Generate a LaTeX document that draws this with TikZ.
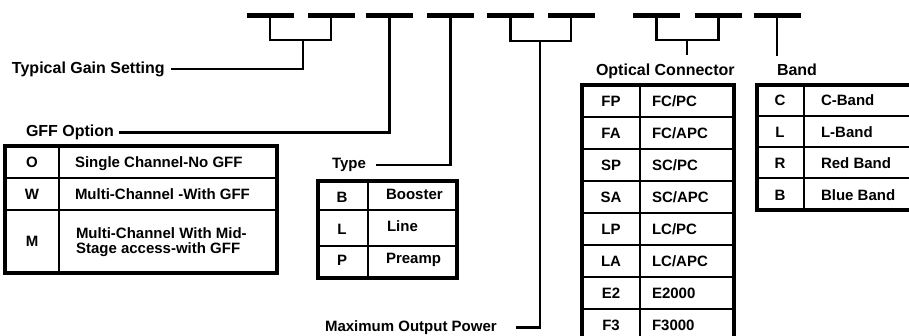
\documentclass[tikz,border=0pt]{standalone}
\usepackage{fontspec}
\setmainfont{Liberation Sans}
\begin{document}
\begin{tikzpicture}[x=1pt,y=-1pt,
  dashbar/.style={fill=black,draw=none,minimum width=47pt,minimum height=4.5pt,inner sep=0pt,outer sep=0pt},
  conn/.style={line width=2.2pt},
  lab/.style={font=\bfseries\fontsize{16}{16}\selectfont,inner sep=0pt,outer sep=0pt,text height=11.5pt,text depth=3.2pt,anchor=west},
  labs/.style={lab,font=\bfseries\fontsize{15}{15}\selectfont,text height=10.8pt,text depth=3pt},
  cell/.style={font=\bfseries\fontsize{15}{15}\selectfont,inner sep=0pt,outer sep=0pt,text height=10.8pt,text depth=0pt},
  key/.style={cell},
  val/.style={cell,anchor=west},
  valml/.style={font=\bfseries\fontsize{15}{15}\selectfont,inner sep=0pt,outer sep=0pt,anchor=west,align=left},
  tabout/.style={line width=3.5pt},
  tabin/.style={line width=1.8pt}]
\useasboundingbox (0,0) rectangle (909,336);
\clip (0,0) rectangle (909,336);
% code dashes
\node[dashbar] (d1) at (270,15.5) {};
\node[dashbar] (d2) at (331,15.5) {};
\node[dashbar] (d3) at (389.5,15.5) {};
\node[dashbar] (d4) at (450.5,15.5) {};
\node[dashbar] (d5) at (510.5,15.5) {};
\node[dashbar] (d6) at (571,15.5) {};
\node[dashbar] (d7) at (656.5,15.5) {};
\node[dashbar] (d8) at (718.5,15.5) {};
\node[dashbar] (d9) at (777,15.5) {};
% labels
\node[lab] (tgs) at (12,69) {Typical Gain Setting};
\node[lab] (gff) at (26,132.5) {GFF Option};
\node[labs] (type) at (332,165) {Type};
\node[labs] (mop) at (325,327.5) {Maximum Output Power};
\node[lab] (oc) at (596,71) {Optical Connector};
\node[lab] (band) at (777,71) {Band};
% connectors
\coordinate (gj) at (303,40);
\draw[conn] (d1.south) |- (gj) -| (d2.south);
\draw[conn] (gj) |- ([xshift=6pt]tgs.east);
\draw[conn] (d3.south) |- ([xshift=5pt]gff.east);
\draw[conn] (d4.south) |- ([xshift=10pt]type.east);
\coordinate (mj) at (540,41);
\draw[conn] (d5.south) |- (mj) -| (d6.south);
\draw[conn] (mj) |- ([xshift=19pt]mop.east);
\coordinate (oj) at (687,40);
\draw[conn] (d7.south) |- (oj) -| (d8.south);
\draw[conn] (oj) -- ([yshift=9pt]oj |- oc.north);
\draw[conn] (d9.south) -- ([yshift=8pt]d9.south |- band.north);
% GFF table
\draw[tabin] (59,146) -- (59,273) (5,178) -- (277,178) (5,210) -- (277,210);
\draw[tabout] (5,146) rectangle (277,273);
\node[key] (gk1) at (32,162) {O};
\node[val] (gv1) at (75,162) {Single Channel-No GFF};
\node[key] (gk2) at (32,194) {W};
\node[val] (gv2) at (75,194) {Multi-Channel -With GFF};
\node[key] (gk3) at (32,241) {M};
\node[valml] (gv3) at (76,242) {Multi-Channel With Mid-\\Stage access-with GFF};
% Type table
\draw[tabin] (368,181) -- (368,278) (318,210) -- (457,210) (318,246) -- (457,246);
\draw[tabout] (318,181) rectangle (457,278);
\node[key] (tk1) at (342,197) {B};
\node[val] (tv1) at (386,194) {Booster};
\node[key] (tk2) at (342,229) {L};
\node[val] (tv2) at (387,226) {Line};
\node[key] (tk3) at (342,260) {P};
\node[val] (tv3) at (386,258) {Preamp};
% Optical connector table
\draw[tabin] (640,85) -- (640,345);
\foreach \yy in {117,149,181,213,245,277,309} \draw[tabin] (582,\yy) -- (734,\yy);
\draw[tabout] (582,85) rectangle (734,341);
\foreach \k/\v/\yy [count=\i] in {FP/FC\slash PC/101,FA/FC\slash APC/133,SP/SC\slash PC/165,SA/SC\slash APC/197,LP/LC\slash PC/229,LA/LC\slash APC/261,E2/E2000/293,F3/F3000/325}{
  \node[key] (ok\i) at (611,\yy) {\k};
  \node[val] (ov\i) at (652,\yy) {\v};
}
% Band table
\draw[tabin] (804,85) -- (804,210);
\foreach \yy in {116,147,178} \draw[tabin] (757,\yy) -- (930,\yy);
\draw[tabout] (757,85) rectangle (930,210);
\foreach \k/\v/\yy [count=\i] in {C/C-Band/100,L/L-Band/132,R/Red Band/163,B/Blue Band/195}{
  \node[key] (bk\i) at (780,\yy) {\k};
  \node[val] (bv\i) at (821,\yy) {\v};
}
\end{tikzpicture}
\end{document}
